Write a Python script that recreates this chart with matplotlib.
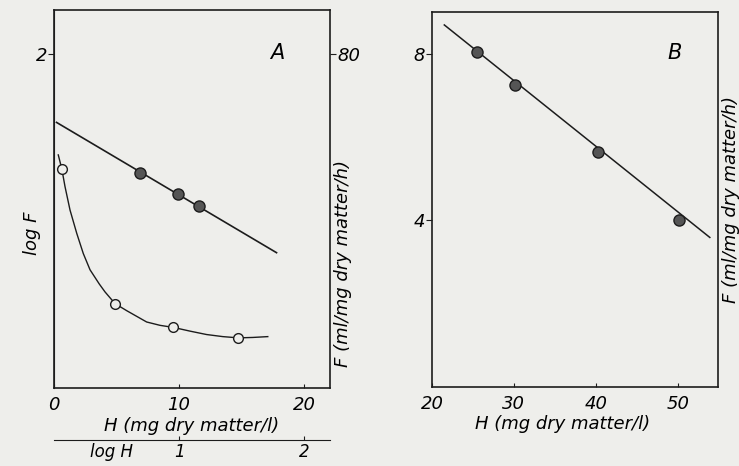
import numpy as np
import matplotlib
matplotlib.use("Agg")
import matplotlib.pyplot as plt
import matplotlib.transforms as mtransforms

plt.rcParams["font.family"] = ["DejaVu Sans"]
plt.rcParams["font.style"] = "italic"
plt.rcParams["font.size"] = 13

ink = "#1c1c1c"
paper = "#eeeeeb"

# panel A, open circles: F against H
h_open = [0.62, 4.88, 9.55, 14.75]
f_open = [52.5, 20.2, 14.5, 12.0]
# hand drawn curve through them
h_curve = [0.34, 0.62, 0.88, 1.28, 1.82, 2.34, 2.88, 3.62, 4.08, 4.88, 5.82,
           7.41, 8.48, 9.55, 10.9, 12.2, 13.5, 14.75, 15.9, 17.1]
f_curve = [55.8, 52.5, 48.2, 42.6, 37.0, 32.2, 28.3, 24.9, 23.0, 20.2, 18.5,
           15.8, 15.0, 14.5, 13.6, 12.8, 12.3, 12.0, 12.1, 12.3]

# panel A, filled circles: log F against log H
logh_fill = [0.69, 0.99, 1.16]
logf_fill = [1.29, 1.16, 1.09]
logh_line = [0.02, 1.78]
logf_line = [1.59, 0.81]

# panel B
h_b = [25.5, 30.1, 40.2, 50.1]
f_b = [8.05, 7.26, 5.63, 4.0]
h_b_line = [21.5, 53.9]
f_b_line = [8.69, 3.59]

fig = plt.figure(figsize=(7.39, 4.66), dpi=100)
fig.patch.set_facecolor(paper)

rect_a = [0.0731, 0.1674, 0.3735, 0.8112]
rect_b = [0.5846, 0.1695, 0.3870, 0.8047]

# ---- panel A, linear axes (F on the right)
axF = fig.add_axes(rect_a)
axF.set_facecolor(paper)
axF.set_xlim(0, 22.08)
axF.set_ylim(0, 90.5)
axF.plot(h_curve, f_curve, color=ink, lw=1.0)
axF.plot(h_open, f_open, "o", ms=7, mfc=paper, mec=ink, mew=1.0)
axF.set_xticks([0, 10, 20])
axF.tick_params(axis="x", direction="in", length=3, pad=6, color=ink)
axF.yaxis.tick_right()
axF.set_yticks([80])
axF.tick_params(axis="y", direction="out", length=4, pad=1, color=ink)
axF.set_xlabel("H (mg dry matter/l)", labelpad=2)
axF.text(1.047, 0.33, "F (ml/mg dry matter/h)", transform=axF.transAxes,
         rotation=90, ha="center", va="center")
axF.text(0.808, 0.886, "A", transform=axF.transAxes, fontsize=15,
         ha="center", va="center")
for sp in axF.spines.values():
    sp.set_color(ink)
    sp.set_linewidth(1.2)

# ---- panel A, log axes (log F on the left, log H below)
axL = fig.add_axes(rect_a)
axL.set_facecolor("none")
axL.set_xlim(0, 2.208)
axL.set_ylim(0, 2.263)
axL.plot(logh_line, logf_line, color=ink, lw=1.2)
axL.plot(logh_fill, logf_fill, "o", ms=8, mfc="#555555", mec=ink, mew=1.0)
axL.spines["top"].set_visible(False)
axL.spines["right"].set_visible(False)
axL.spines["bottom"].set_position(("outward", 37.5))
axL.spines["bottom"].set_color(ink)
axL.spines["left"].set_color(ink)
axL.set_xticks([1, 2])
axL.tick_params(axis="x", direction="in", length=3, pad=2, labelsize=12,
                color=ink)
axL.set_yticks([2])
axL.tick_params(axis="y", direction="out", length=4, pad=1, color=ink)
axL.text(-0.08, 0.41, "log F", transform=axL.transAxes,
         rotation=90, ha="center", va="center")
trans = mtransforms.blended_transform_factory(axL.transData, axL.transAxes)
axL.text(0.46, -0.145, "log H", transform=trans, fontsize=12,
         ha="center", va="top")

# ---- panel B
axB = fig.add_axes(rect_b)
axB.set_facecolor(paper)
axB.set_xlim(20, 54.9)
axB.set_ylim(0, 9.0)
axB.plot(h_b_line, f_b_line, color=ink, lw=1.1)
axB.plot(h_b, f_b, "o", ms=8, mfc="#555555", mec=ink, mew=1.0)
axB.set_xticks([20, 30, 40, 50])
axB.tick_params(axis="x", direction="in", length=3, pad=6, color=ink)
axB.set_yticks([4, 8])
axB.tick_params(axis="y", direction="out", length=4, pad=1, color=ink)
axB.set_xlabel("H (mg dry matter/l)", labelpad=2)
axB.xaxis.set_label_coords(0.455, -0.075)
axB.text(1.045, 0.5, "F (ml/mg dry matter/h)", transform=axB.transAxes,
         rotation=90, ha="center", va="center")
axB.text(0.85, 0.89, "B", transform=axB.transAxes, fontsize=15,
         ha="center", va="center")
for sp in axB.spines.values():
    sp.set_color(ink)
    sp.set_linewidth(1.2)

fig.savefig("out.png", dpi=100, facecolor=paper)
